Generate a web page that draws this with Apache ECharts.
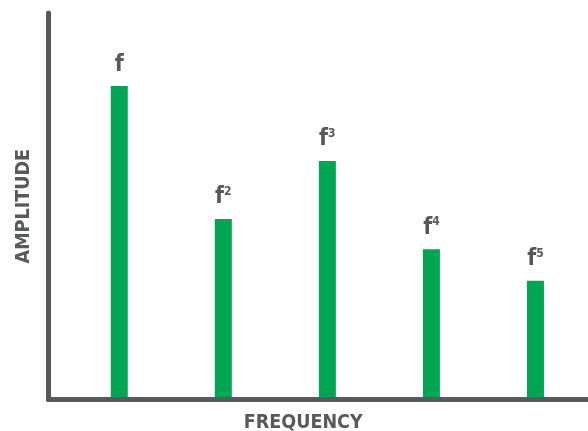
<!DOCTYPE html>
<html><head><meta charset="utf-8">
<script src="https://cdn.jsdelivr.net/npm/echarts@6/dist/echarts.min.js"></script>
<style>html,body{margin:0;padding:0;background:#fff}#c{width:588px;height:431px}</style>
</head><body><div id="c"></div>
<script>
const harmonics = ['', '2', '3', '4', '5'];
const positions = [1, 2, 3, 4, 5];
const amplitudes = [81.1, 46.7, 61.7, 38.9, 30.7];
const xName = 'FREQUENCY';
const yName = 'AMPLITUDE';
const ink = '#58595b';
const green = '#00a651';
const font = '"DejaVu Sans Condensed","Noto Sans",sans-serif';
const weight = 'bold';

const chart = echarts.init(document.getElementById('c'));
chart.setOption({
  animation: false,
  grid: { left: 48.5, right: 0, top: 13, bottom: 31.5, containLabel: false, outerBoundsMode: 'none' },
  xAxis: {
    type: 'value', min: 0.32, max: 5.505, z: 5,
    axisLine: { show: true, lineStyle: { color: ink, width: 5 } },
    axisTick: { show: false }, axisLabel: { show: false }, splitLine: { show: false },
    name: xName, nameLocation: 'middle', nameGap: 13,
    nameTextStyle: { color: ink, fontSize: 19.5, fontWeight: weight, fontFamily: font, padding: [0, 30, 0, 0] }
  },
  yAxis: {
    type: 'value', min: 0, max: 100, z: 5,
    axisLine: { show: true, lineStyle: { color: ink, width: 5, cap: 'round' } },
    axisTick: { show: false }, axisLabel: { show: false }, splitLine: { show: false },
    name: yName, nameLocation: 'middle', nameGap: 15,
    nameTextStyle: { color: ink, fontSize: 19.5, fontWeight: weight, fontFamily: font }
  },
  series: [{
    type: 'bar', barWidth: 17,
    itemStyle: { color: green },
    data: positions.map((p, i) => [p, amplitudes[i]]),
    label: {
      show: true, position: 'top', distance: 10,
      formatter: (p) => '{b|f}' + (harmonics[p.dataIndex] ? '{s|' + harmonics[p.dataIndex] + '}' : ''),
      rich: {
        b: { color: ink, fontSize: 23, fontWeight: weight, fontFamily: font },
        s: { color: ink, fontSize: 12, fontWeight: weight, fontFamily: font, verticalAlign: 'top', padding: [0, 0, 10, 0] }
      }
    }
  }]
});
</script></body></html>
